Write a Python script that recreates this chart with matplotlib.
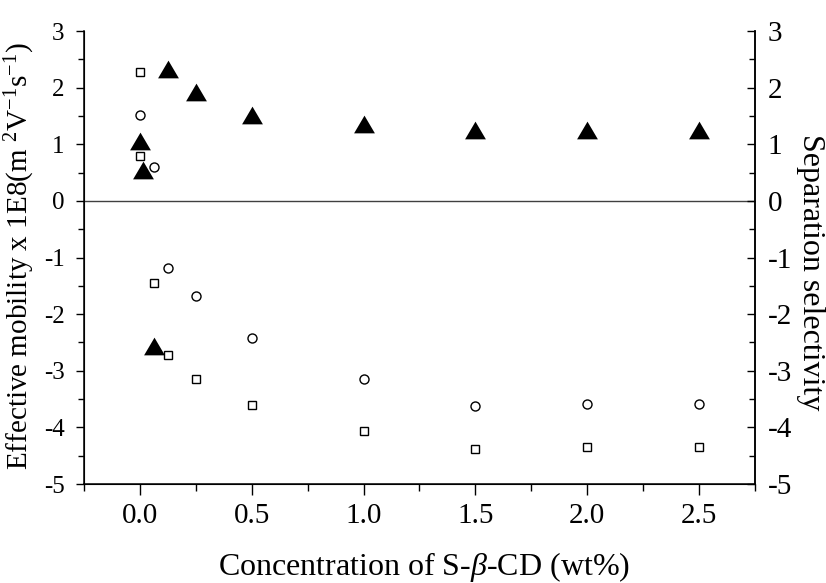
import numpy as np
import matplotlib
matplotlib.use("Agg")
import matplotlib.pyplot as plt
from matplotlib.ticker import MultipleLocator

plt.rcParams['font.family'] = ['Liberation Serif', 'DejaVu Serif']
plt.rcParams['mathtext.fontset'] = 'custom'
plt.rcParams['mathtext.rm'] = 'Liberation Serif'
plt.rcParams['mathtext.it'] = 'Liberation Serif:italic'
plt.rcParams['axes.unicode_minus'] = False

# ---- data ----
# open squares (mobility)
sq_x = [0.0, 0.0, 0.0625, 0.125, 0.25, 0.5, 1.0, 1.5, 2.0, 2.5]
sq_y = [2.28, 0.79, -1.45, -2.73, -3.15, -3.61, -4.07, -4.38, -4.35, -4.35]

# open circles (mobility)
ci_x = [0.0, 0.0625, 0.125, 0.25, 0.5, 1.0, 1.5, 2.0, 2.5]
ci_y = [1.52, 0.60, -1.18, -1.68, -2.43, -3.14, -3.63, -3.58, -3.58]

# filled triangles (selectivity)
tr_x = [0.0, 0.015, 0.0625, 0.125, 0.25, 0.5, 1.0, 1.5, 2.0, 2.5]
tr_y = [1.05, 0.55, -2.56, 2.33, 1.92, 1.52, 1.35, 1.25, 1.25, 1.25]

x_ticks = [0.0, 0.5, 1.0, 1.5, 2.0, 2.5]
y_ticks = [-5, -4, -3, -2, -1, 0, 1, 2, 3]

# flattened triangle marker
tri = [(-1, -0.85), (1, -0.85), (0, 0.85), (-1, -0.85)]

fig = plt.figure(figsize=(8.26, 5.83), dpi=100)
ax = fig.add_axes([0.1017, 0.1698, 0.8123, 0.777])

ax.plot(tr_x, tr_y, linestyle='none', marker=tri, ms=15, mfc='black', mec='black', mew=0)
ax.plot(ci_x, ci_y, linestyle='none', marker='o', ms=6.5, mfc='white', mec='black', mew=1.0)
ax.plot(sq_x, sq_y, linestyle='none', marker='s', ms=6.2, mfc='white', mec='black', mew=1.0)

ax.axhline(0, color='0.25', lw=1.0, zorder=0)

ax.set_xlim(-0.25, 2.75)
ax.set_ylim(-5, 3)
ax.set_xticks(x_ticks)
ax.set_xticklabels([f"{v:.1f}" for v in x_ticks])
ax.set_yticks(y_ticks)
ax.xaxis.set_minor_locator(MultipleLocator(0.25))
ax.yaxis.set_minor_locator(MultipleLocator(0.5))

ax.spines['top'].set_visible(False)
for side in ['left', 'right', 'bottom']:
    ax.spines[side].set_linewidth(1.1)

ax.tick_params(axis='x', which='major', direction='out', length=8, width=1, labelsize=21, pad=6)
ax.tick_params(axis='x', which='minor', direction='out', length=5, width=1)
ax.tick_params(axis='y', which='major', direction='out', length=6, width=1, labelsize=18, pad=8)
ax.tick_params(axis='y', which='minor', direction='out', length=4, width=1)

ax2 = ax.twinx()
ax2.set_ylim(-5, 3)
ax2.set_yticks(y_ticks)
ax2.yaxis.set_minor_locator(MultipleLocator(0.5))
ax2.spines['top'].set_visible(False)
ax2.spines['right'].set_linewidth(1.1)
ax2.tick_params(axis='y', which='major', direction='in', length=6, width=1, labelsize=21, pad=9)
ax2.tick_params(axis='y', which='minor', direction='in', length=4, width=1)

ax.set_xlabel(r"Concentration of S-$\beta$-CD (wt%)", fontsize=23, va='center')
ax.xaxis.set_label_coords(0.506, -0.183)

ax.set_ylabel(r"Effective mobility x 1E8(m $^{2}$V$^{-1}$s$^{-1}$)", fontsize=21, va='center')
ax.yaxis.set_label_coords(-0.095, 0.503)

ax2.set_ylabel("Separation selectivity", fontsize=23, rotation=270, va='center')
ax2.yaxis.set_label_coords(1.083, 0.468)

fig.savefig("out.png", dpi=100)
